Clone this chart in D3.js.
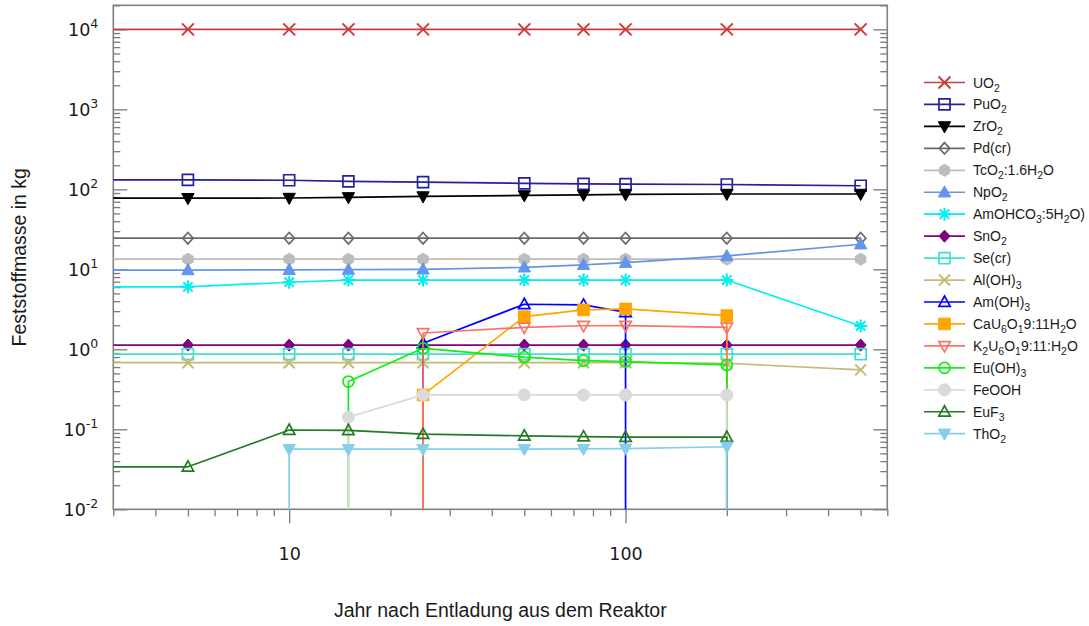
<!DOCTYPE html>
<html>
<head>
<meta charset="utf-8">
<script src="https://cdn.jsdelivr.net/npm/d3@7"></script>
<style>
  html, body { margin: 0; padding: 0; background: #fff; }
  svg { display: block; }
</style>
</head>
<body>
<svg id="chart" width="1089" height="626"></svg>
<script>
// Years after discharge from the reactor (first entry lies left of the visible axis)
const years = [1, 5, 10, 15, 25, 50, 75, 100, 200, 500];

// Solid-phase mass in kg per phase; 0 = phase not present
const uo2      = [10000, 10000, 10000, 10000, 10000, 10000, 10000, 10000, 10000, 10000];
const puo2     = [131, 131, 130, 126, 123, 119, 117, 116, 115, 111];
const zro2     = [77.5, 77.5, 78, 79.5, 81.5, 84, 85.5, 86.5, 87.5, 87.5];
const pdcr     = [24.5, 24.5, 24.5, 24.5, 24.5, 24.5, 24.5, 24.5, 24.5, 24.5];
const tco2     = [13.4, 13.4, 13.4, 13.4, 13.4, 13.4, 13.4, 13.4, 13.4, 13.4];
const npo2     = [9.8, 9.8, 9.85, 9.9, 10.0, 10.6, 11.4, 12.1, 14.7, 20.6];
const amohco3  = [6.05, 6.05, 6.9, 7.35, 7.35, 7.35, 7.35, 7.35, 7.35, 1.96];
const sno2     = [1.13, 1.13, 1.13, 1.13, 1.13, 1.13, 1.13, 1.13, 1.13, 1.13];
const secr     = [0.87, 0.87, 0.87, 0.87, 0.87, 0.87, 0.87, 0.87, 0.87, 0.87];
const aloh3    = [0.68, 0.68, 0.68, 0.68, 0.68, 0.68, 0.68, 0.68, 0.67, 0.553];
const amoh3    = [0, 0, 0, 0, 1.19, 3.66, 3.59, 2.91, 0, 0];
const cauranat = [0, 0, 0, 0, 0.269, 2.56, 3.11, 3.2, 2.64, 0];
const kuranat  = [0, 0, 0, 0, 1.6, 1.88, 1.97, 1.98, 1.88, 0];
const euoh3    = [0, 0, 0, 0.395, 1.03, 0.797, 0.722, 0.702, 0.638, 0];
const feooh    = [0, 0, 0, 0.142, 0.269, 0.269, 0.269, 0.269, 0.269, 0];
const euf3     = [0.034, 0.034, 0.098, 0.097, 0.087, 0.083, 0.081, 0.080, 0.080, 0];
const tho2     = [0, 0, 0.0564, 0.0564, 0.0564, 0.0566, 0.0568, 0.0572, 0.0605, 0];

// Legend labels ("_x" marks a one-character subscript)
const labels = [
  "UO_2", "PuO_2", "ZrO_2", "Pd(cr)", "TcO_2:1.6H_2O", "NpO_2", "AmOHCO_3:5H_2O)",
  "SnO_2", "Se(cr)", "Al(OH)_3", "Am(OH)_3", "CaU_6O_19:11H_2O", "K_2U_6O_19:11:H_2O",
  "Eu(OH)_3", "FeOOH", "EuF_3", "ThO_2"
];
const values = [uo2, puo2, zro2, pdcr, tco2, npo2, amohco3, sno2, secr, aloh3,
                amoh3, cauranat, kuranat, euoh3, feooh, euf3, tho2];

// Axis ticks
const xMajorTicks = [10, 100];
const xMinorTicks = [3, 4, 5, 6, 7, 8, 9, 20, 30, 40, 50, 60, 70, 80, 90, 200, 300, 400, 500, 600];
const yMajorTicks = [1e-2, 1e-1, 1e0, 1e1, 1e2, 1e3, 1e4];
const yMajorExp   = ["-2", "-1", "0", "1", "2", "3", "4"];
const xTitle = "Jahr nach Entladung aus dem Reaktor";
const yTitle = "Feststoffmasse in kg";

// Styling per series: colour and marker
const styles = [
  { color: "#cc3c3c", marker: "cross",     size: 6 },
  { color: "#22229c", marker: "squareO",   size: 5.5 },
  { color: "#000000", marker: "triDownF",  size: 6.5 },
  { color: "#6a6a6a", marker: "diamondO",  size: 5.2 },
  { color: "#bdbdbd", marker: "hexF",      size: 6 },
  { color: "#6495ed", marker: "triUpF",    size: 6.5 },
  { color: "#00efef", marker: "star",      size: 6.5 },
  { color: "#800080", marker: "diamondF",  size: 5.5 },
  { color: "#40e0d0", marker: "squareO",   size: 5.5 },
  { color: "#c4ba78", marker: "cross",     size: 5.5 },
  { color: "#0000ff", marker: "triUpO",    size: 6 },
  { color: "#ffa500", marker: "squareF",   size: 5.8 },
  { color: "#fa7462", marker: "triDownO",  size: 6 },
  { color: "#11ee11", marker: "circleO",   size: 5.5 },
  { color: "#dadada", marker: "circleF",   size: 6 },
  { color: "#237a23", marker: "triUpO",    size: 6 },
  { color: "#87ceeb", marker: "triDownF",  size: 6.5 }
];

const W = 1089, H = 626;
const plot = { left: 113.3, right: 887.3, top: 5.3, bottom: 509.3 };
const x = d3.scaleLog().domain([3, 600]).range([plot.left, plot.right]);
const y = d3.scaleLog().domain([0.01, 2e4]).range([plot.bottom, plot.top]);

const svg = d3.select("#chart");
svg.append("rect").attr("width", W).attr("height", H).attr("fill", "#fff");

svg.append("defs").append("clipPath").attr("id", "plotClip")
  .append("rect")
  .attr("x", plot.left).attr("y", plot.top)
  .attr("width", plot.right - plot.left).attr("height", plot.bottom - plot.top);

// Minor y ticks: 2..9 within each decade
const yMinorTicks = [];
for (let e = -2; e <= 4; e++) {
  for (let m = 2; m <= 9; m++) {
    const v = +(m * Math.pow(10, e)).toPrecision(3);
    if (v <= 2e4) yMinorTicks.push(v);
  }
}

const tickColor = "#7a7a7a";
function styleAxis(g) {
  g.select(".domain").remove();
  g.selectAll(".tick line").attr("stroke", tickColor).attr("stroke-width", 1.3);
}

// Left and right axes (ticks pointing inside the frame)
svg.append("g").attr("transform", `translate(${plot.left},0)`)
  .call(d3.axisLeft(y).tickValues(yMinorTicks).tickSize(-7).tickFormat(""))
  .call(styleAxis);
svg.append("g").attr("transform", `translate(${plot.right},0)`)
  .call(d3.axisRight(y).tickValues(yMinorTicks).tickSize(-7).tickFormat(""))
  .call(styleAxis);
svg.append("g").attr("transform", `translate(${plot.right},0)`)
  .call(d3.axisRight(y).tickValues(yMajorTicks).tickSize(-14).tickFormat(""))
  .call(styleAxis);

const yMajor = svg.append("g").attr("transform", `translate(${plot.left},0)`)
  .call(d3.axisLeft(y).tickValues(yMajorTicks).tickSize(-14).tickPadding(15).tickFormat(""))
  .call(styleAxis);
yMajor.selectAll(".tick text").each(function (d, i) {
  const t = d3.select(this)
    .attr("font-family", "'DejaVu Sans', Verdana, sans-serif")
    .attr("font-size", 17.5).attr("fill", "#1a1a1a").attr("dy", "0.34em");
  t.append("tspan").text("10");
  t.append("tspan").attr("dy", -7.5).attr("font-size", 12.5).text(yMajorExp[i]);
});

// Bottom axis (ticks pointing outside)
svg.append("g").attr("transform", `translate(0,${plot.bottom})`)
  .call(d3.axisBottom(x).tickValues(xMinorTicks).tickSize(7).tickFormat(""))
  .call(styleAxis);
svg.append("g").attr("transform", `translate(0,${plot.bottom})`)
  .call(d3.axisBottom(x).tickValues(xMajorTicks).tickSize(14).tickPadding(24).tickFormat(d3.format("d")))
  .call(styleAxis)
  .call(g => g.selectAll(".tick text")
    .attr("font-family", "'DejaVu Sans', Verdana, sans-serif")
    .attr("font-size", 17.5).attr("fill", "#1a1a1a"));

// Frame
svg.append("rect")
  .attr("x", plot.left).attr("y", plot.top)
  .attr("width", plot.right - plot.left).attr("height", plot.bottom - plot.top)
  .attr("fill", "none").attr("stroke", "#808080").attr("stroke-width", 1.6);

// Axis titles
svg.append("text")
  .attr("x", (plot.left + plot.right) / 2).attr("y", 617)
  .attr("text-anchor", "middle")
  .attr("font-family", "'Liberation Sans', Arial, sans-serif")
  .attr("font-size", 19.5).attr("fill", "#1a1a1a")
  .text(xTitle);
svg.append("text")
  .attr("transform", `translate(26,${(plot.top + plot.bottom) / 2}) rotate(-90)`)
  .attr("text-anchor", "middle")
  .attr("font-family", "'Liberation Sans', Arial, sans-serif")
  .attr("font-size", 19.5).attr("fill", "#1a1a1a")
  .text(yTitle);

// Marker shapes
function markerPath(type, s) {
  switch (type) {
    case "cross": return `M${-s},${-s}L${s},${s}M${-s},${s}L${s},${-s}`;
    case "squareO":
    case "squareF": return `M${-s},${-s}H${s}V${s}H${-s}Z`;
    case "triUpO":
    case "triUpF": return `M0,${-s}L${s * 0.95},${s * 0.72}L${-s * 0.95},${s * 0.72}Z`;
    case "triDownO":
    case "triDownF": return `M0,${s}L${s * 0.95},${-s * 0.72}L${-s * 0.95},${-s * 0.72}Z`;
    case "diamondO":
    case "diamondF": return `M0,${-s * 1.1}L${s},0L0,${s * 1.1}L${-s},0Z`;
    case "hexF": {
      const pts = d3.range(6).map(k => {
        const a = Math.PI / 6 + k * Math.PI / 3;
        return [s * Math.cos(a), s * Math.sin(a)];
      });
      return "M" + pts.map(p => p.join(",")).join("L") + "Z";
    }
    case "star": {
      const d = s * 0.72;
      return `M0,${-s}V${s}M${-s},0H${s}M${-d},${-d}L${d},${d}M${-d},${d}L${d},${-d}`;
    }
    case "circleO":
    case "circleF":
      return `M${s},0A${s},${s} 0 1,1 ${-s},0A${s},${s} 0 1,1 ${s},0Z`;
  }
}
function drawMarker(g, st, cx, cy) {
  const filled = /F$/.test(st.marker);
  const lineOnly = st.marker === "cross" || st.marker === "star";
  g.append("path")
    .attr("transform", `translate(${cx},${cy})`)
    .attr("d", markerPath(st.marker, st.size))
    .attr("fill", filled ? st.color : "none")
    .attr("stroke", st.color)
    .attr("stroke-width", lineOnly ? 2 : (filled ? 1 : 1.7));
}

// Split a series into runs of present values; a run that starts or ends
// next to an absent value drops vertically to the bottom of the axis.
function runs(vals) {
  const out = [];
  let cur = null;
  vals.forEach((v, i) => {
    if (v > 0) {
      if (!cur) { cur = []; if (i > 0) cur.push([years[i], null]); }
      cur.push([years[i], v]);
    } else if (cur) {
      cur.push([years[i - 1], null]);
      out.push(cur);
      cur = null;
    }
  });
  if (cur) out.push(cur);
  return out;
}

const line = d3.line()
  .x(d => x(d[0]))
  .y(d => d[1] == null ? plot.bottom + 2 : y(d[1]));

const plotG = svg.append("g").attr("clip-path", "url(#plotClip)");
values.forEach((vals, i) => {
  const st = styles[i];
  const g = plotG.append("g");
  runs(vals).forEach(r => {
    g.append("path").attr("d", line(r))
      .attr("fill", "none").attr("stroke", st.color)
      .attr("stroke-width", 1.7).attr("stroke-linejoin", "round");
  });
  vals.forEach((v, j) => {
    if (v > 0) drawMarker(g, st, x(years[j]), y(v));
  });
});

// Legend
function addLabel(textSel, label) {
  const parts = [];
  for (let k = 0; k < label.length; k++) {
    if (label[k] === "_" && k + 1 < label.length) { parts.push([label[k + 1], true]); k++; }
    else if (parts.length && !parts[parts.length - 1][1]) parts[parts.length - 1][0] += label[k];
    else parts.push([label[k], false]);
  }
  let shifted = false;
  parts.forEach(([t, sub]) => {
    const ts = textSel.append("tspan").text(t);
    if (sub && !shifted) { ts.attr("dy", 4).attr("font-size", 10.5); shifted = true; }
    else if (sub) { ts.attr("font-size", 10.5); }
    else if (shifted) { ts.attr("dy", -4); shifted = false; }
  });
}

const legend = svg.append("g").attr("transform", "translate(924,82.5)");
labels.forEach((lab, i) => {
  const st = styles[i];
  const g = legend.append("g").attr("transform", `translate(0,${i * 21.95})`);
  g.append("line").attr("x1", 0).attr("x2", 41).attr("y1", 0).attr("y2", 0)
    .attr("stroke", st.color).attr("stroke-width", 1.7);
  drawMarker(g, st, 20.5, 0);
  const t = g.append("text").attr("x", 49).attr("y", 5)
    .attr("font-family", "'Liberation Sans', Arial, sans-serif")
    .attr("font-size", 14).attr("fill", "#1a1a1a");
  addLabel(t, lab);
});
</script>
</body>
</html>
